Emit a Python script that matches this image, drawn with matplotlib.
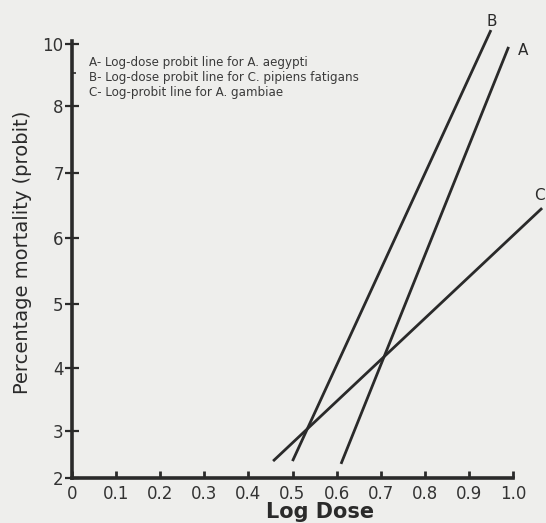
import numpy as np
import matplotlib
matplotlib.use('Agg')
from matplotlib import pyplot as plt

# probit axis as drawn in the original (uneven spacing between ticks)
probit_vals = [2, 3, 4, 5, 6, 7, 8, 9, 10]
probit_pos = [0, 47, 110, 174, 240, 305, 372, 405, 434]

# end points of the three probit lines (log dose, probit)
line_a_x = [0.61, 0.99]
line_a_y = [2.30, 9.90]
line_b_x = [0.50, 0.95]
line_b_y = [2.36, 10.48]
line_c_x = [0.456, 1.066]
line_c_y = [2.36, 6.46]

x_ticks = [0, 0.1, 0.2, 0.3, 0.4, 0.5, 0.6, 0.7, 0.8, 0.9, 1.0]
x_labels = ['0', '0.1', '0.2', '0.3', '0.4', '0.5', '0.6', '0.7', '0.8', '0.9', '1.0']
y_ticks = [2, 3, 4, 5, 6, 7, 8, 10]
y_labels = ['2', '3', '4', '5', '6', '7', '8', '10']

legend_lines = ['A- Log-dose probit line for A. aegypti',
                'B- Log-dose probit line for C. pipiens fatigans',
                'C- Log-probit line for A. gambiae']

# extend the mapping linearly beyond the drawn range
v_ext = [0] + probit_vals + [12]
p_ext = [-94] + probit_pos + [434 + 2 * 29]


def fwd(v):
    return np.interp(v, v_ext, p_ext)


def inv(p):
    return np.interp(p, p_ext, v_ext)


plt.rcParams['font.family'] = ['DejaVu Sans']
bg = '#eeeeec'
ink = '#2a2a2a'

fig = plt.figure(figsize=(5.46, 5.23), dpi=100, facecolor=bg)
ax = fig.add_axes([72 / 546, 1 - 478 / 523, 441 / 546, 434 / 523])
ax.set_facecolor(bg)
ax.set_yscale('function', functions=(fwd, inv))
ax.set_xlim(0, 1.0)
ax.set_ylim(2, 10)

for xs, ys in [(line_a_x, line_a_y), (line_b_x, line_b_y), (line_c_x, line_c_y)]:
    ax.plot(xs, ys, color=ink, lw=2.0, clip_on=False, solid_capstyle='butt')

ax.text(0.952, 10.78, 'B', fontsize=11, color=ink, ha='center', va='center')
ax.text(1.012, 9.76, 'A', fontsize=11, color=ink, ha='left', va='center')
ax.text(1.072, 6.66, 'C', fontsize=11, color=ink, ha='right', va='center')

for i, s in enumerate(legend_lines):
    ax.text(0.039, 0.958 - i * 0.035, s, transform=ax.transAxes,
            fontsize=8.6, color='#3a3a3a', va='center', ha='left')

for side in ['top', 'right']:
    ax.spines[side].set_visible(False)
for side in ['left', 'bottom']:
    ax.spines[side].set_linewidth(2.6)
    ax.spines[side].set_color(ink)
ax.spines['left'].set_bounds(2, 10.1)

ax.set_xticks(x_ticks)
ax.set_xticklabels(x_labels, fontsize=12, color='#333333')
ax.set_yticks(y_ticks)
ax.set_yticklabels(y_labels, fontsize=12, color='#333333')
ax.set_yticks([9], minor=True)
ax.tick_params(axis='x', direction='in', length=5, width=2, color=ink, pad=5)
ax.tick_params(axis='y', direction='inout', length=10, width=1.6, color=ink, pad=1)
ax.tick_params(axis='y', which='minor', direction='in', length=3, width=1.2, color=ink)
ax.tick_params(axis='x', which='minor', bottom=False)

ax.set_xlabel('Log Dose', fontsize=15, fontweight='bold', color=ink)
ax.xaxis.set_label_coords(0.563, -0.056)
ax.set_ylabel('Percentage mortality (probit)', fontsize=14, color=ink)
ax.yaxis.set_label_coords(-0.09, 0.52)

fig.savefig('out.png', dpi=100, facecolor=bg)
